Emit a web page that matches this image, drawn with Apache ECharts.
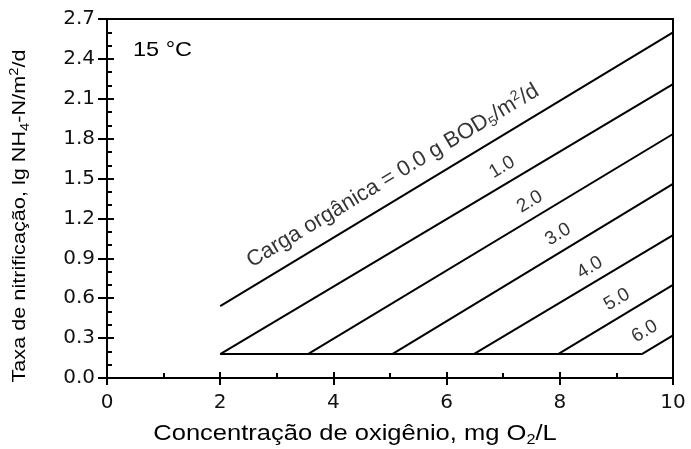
<!DOCTYPE html>
<html>
<head>
<meta charset="utf-8">
<script src="https://cdn.jsdelivr.net/npm/echarts@6/dist/echarts.min.js"></script>
<style>
  html, body { margin: 0; padding: 0; background: #fff; }
  #chart { width: 691px; height: 449px; }
</style>
</head>
<body>
<div id="chart"></div>
<script>
// carga orgânica (g BOD5/m2/d) for each line
var loads = ['0.0', '1.0', '2.0', '3.0', '4.0', '5.0', '6.0'];
// line ends
var xStart = [2, 2, 3.55, 5.04, 6.48, 7.97, 9.45];
var yStart = [0.54, 0.18, 0.18, 0.18, 0.18, 0.18, 0.18];
var xEnd = [10, 10, 10, 10, 10, 10, 10];
var yEnd = [2.6, 2.21, 1.835, 1.46, 1.075, 0.70, 0.32];
// common bottom line of the 1.0 .. 6.0 curves
var baseX = [2, 9.45];
var baseY = [0.18, 0.18];
// where the line labels sit
var labelX = [5.05, 6.98, 7.47, 7.97, 8.53, 9.01, 9.5];
var labelY = [1.52, 1.585, 1.325, 1.08, 0.83, 0.59, 0.35];
var xTickLabels = ['0', '2', '4', '6', '8', '10'];
var yTickLabels = ['0.0', '0.3', '0.6', '0.9', '1.2', '1.5', '1.8', '2.1', '2.4', '2.7'];

var font = 'Arial, "Liberation Sans", sans-serif';
var tickFont = '"DejaVu Sans", Arial, sans-serif';
var chart = echarts.init(document.getElementById('chart'), null, { renderer: 'canvas' });

var series = [];
for (var i = 0; i < loads.length; i++) {
  series.push({
    name: loads[i],
    type: 'line',
    data: [[xStart[i], yStart[i]], [xEnd[i], yEnd[i]]],
    symbol: 'none',
    lineStyle: { color: '#000', width: 2 },
    silent: true
  });
}
series.push({
  name: 'base',
  type: 'line',
  data: [[baseX[0], baseY[0]], [baseX[1], baseY[1]]],
  symbol: 'none',
  lineStyle: { color: '#000', width: 2 },
  silent: true
});

var labelData = [];
for (var j = 0; j < loads.length; j++) {
  labelData.push({
    value: [labelX[j], labelY[j]],
    name: j === 0 ? 'Carga orgânica = ' + loads[j] + ' g BOD{sub|5}/m{sup|2}/d' : loads[j],
    label: { fontSize: j === 0 ? 22 : 19 }
  });
}
series.push({
  name: 'labels',
  type: 'scatter',
  symbolSize: 1,
  itemStyle: { color: 'transparent' },
  silent: true,
  data: labelData,
  label: {
    show: true,
    position: 'inside',
    formatter: '{b}',
    rotate: 31,
    align: 'center',
    verticalAlign: 'middle',
    color: '#000',
    fontFamily: font,
    lineHeight: 25,
    rich: {
      sub: { fontSize: 14, lineHeight: 12, verticalAlign: 'bottom', color: '#000', fontFamily: font },
      sup: { fontSize: 14, lineHeight: 12, verticalAlign: 'top', color: '#000', fontFamily: font }
    }
  }
});

var option = {
  animation: false,
  backgroundColor: '#fff',
  grid: {
    left: 107, right: 18, top: 19, bottom: 71,
    show: true, borderColor: '#000', borderWidth: 2
  },
  xAxis: [
    {
      type: 'value', min: 0, max: 10, interval: 2,
      axisLine: { lineStyle: { color: '#000', width: 2 } },
      axisTick: { inside: false, length: 7, lineStyle: { color: '#000', width: 2 } },
      axisLabel: {
        margin: 15, fontSize: 20, color: '#111', fontFamily: tickFont,
        formatter: function (v) { return xTickLabels[Math.round(v / 2)]; }
      },
      splitLine: { show: false }
    },
    {
      type: 'value', min: 0, max: 10, interval: 2, position: 'bottom',
      axisLine: { show: false },
      axisTick: { inside: true, length: 6, lineStyle: { color: '#000', width: 2 } },
      minorTick: { show: true, splitNumber: 2, length: 5, lineStyle: { color: '#000', width: 2 } },
      axisLabel: { show: false },
      splitLine: { show: false }
    }
  ],
  yAxis: [
    {
      type: 'value', min: 0, max: 2.7, interval: 0.3,
      axisLine: { lineStyle: { color: '#000', width: 2 } },
      axisTick: { inside: false, length: 9, lineStyle: { color: '#000', width: 2 } },
      axisLabel: {
        margin: 12, fontSize: 20, color: '#111', fontFamily: tickFont,
        formatter: function (v) { return yTickLabels[Math.round(v / 0.3)]; }
      },
      splitLine: { show: false }
    },
    {
      type: 'value', min: 0, max: 2.7, interval: 0.3, position: 'left',
      axisLine: { show: false },
      axisTick: { inside: true, length: 7, lineStyle: { color: '#000', width: 2 } },
      minorTick: { show: true, splitNumber: 3, length: 5, lineStyle: { color: '#000', width: 2 } },
      axisLabel: { show: false },
      splitLine: { show: false }
    }
  ],
  graphic: [
    {
      type: 'text', x: 133, y: 50, scaleX: 1.12,
      style: { text: '15 °C', fontSize: 21, fontFamily: font, fill: '#000', align: 'left', verticalAlign: 'middle' }
    },
    {
      type: 'text', x: 355, y: 434, scaleX: 1.16,
      style: {
        text: 'Concentração de oxigênio, mg O{sub|2}/L',
        fontSize: 22, lineHeight: 26, fontFamily: font, fill: '#000',
        align: 'center', verticalAlign: 'middle',
        rich: {
          sub: { fontSize: 14, lineHeight: 13, verticalAlign: 'bottom', fill: '#000', fontFamily: font }
        }
      }
    },
    {
      type: 'text', x: 20, y: 216, rotation: Math.PI / 2, scaleX: 1.14,
      style: {
        text: 'Taxa de nitrificação, lg NH{sub|4}-N/m{sup|2}/d',
        fontSize: 19, lineHeight: 24, fontFamily: font, fill: '#000',
        align: 'center', verticalAlign: 'middle',
        rich: {
          sub: { fontSize: 13, lineHeight: 12, verticalAlign: 'bottom', fill: '#000', fontFamily: font },
          sup: { fontSize: 13, lineHeight: 12, verticalAlign: 'top', fill: '#000', fontFamily: font }
        }
      }
    }
  ],
  series: series
};
chart.setOption(option);
</script>
</body>
</html>
